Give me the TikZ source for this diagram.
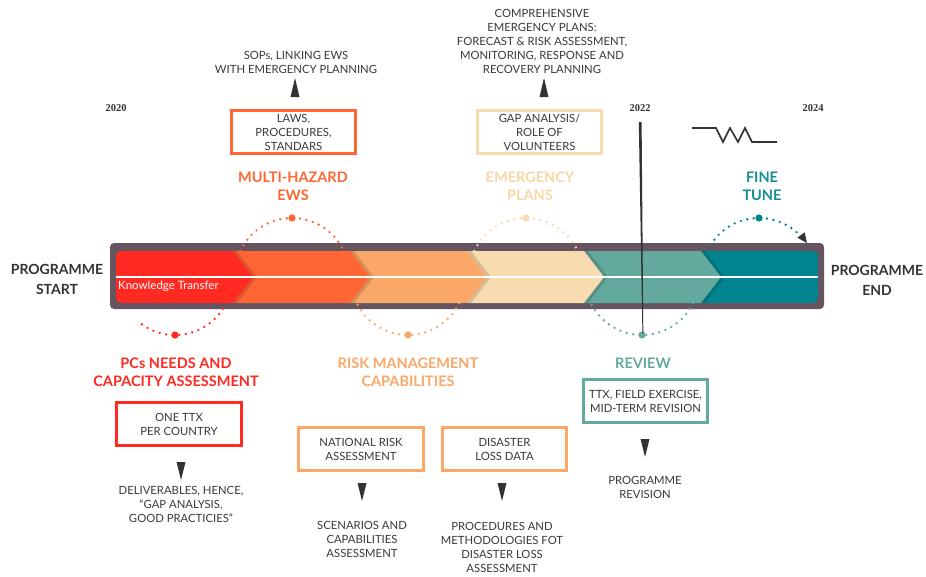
\documentclass[tikz,border=0pt]{standalone}
\usepackage{fontspec}
\setmainfont{Lato}
\newfontfamily\yearfont{Liberation Serif}
\usetikzlibrary{calc}
\definecolor{cRed}{HTML}{FF2A22}
\definecolor{cOrange}{HTML}{FF6633}
\definecolor{cLOrange}{HTML}{FBA768}
\definecolor{cCream}{HTML}{F8DCB0}
\definecolor{cCreamT}{HTML}{F7D7A6}
\definecolor{cTGreen}{HTML}{63A99D}
\definecolor{cTeal}{HTML}{00858F}
\definecolor{cTealT}{HTML}{168C95}
\definecolor{barc}{HTML}{665560}
\definecolor{tgray}{HTML}{3A3A3A}
\definecolor{pgray}{HTML}{333333}
\begin{document}
\begin{tikzpicture}[x=1pt,y=-1pt,
  head/.style={font=\bfseries\fontsize{14.5}{18}\selectfont, align=center, inner sep=0pt},
  txt/.style={font=\fontsize{11.3}{14}\selectfont, text=tgray, align=center, inner sep=0pt},
  prog/.style={font=\bfseries\fontsize{14}{20}\selectfont, text=pgray, align=center, inner sep=0pt},
  yr/.style={font=\yearfont\bfseries\fontsize{10.5}{12}\selectfont, text=pgray, inner sep=0pt},
  boxed/.style={txt, draw=#1, line width=2.6pt, minimum width=124.5pt, minimum height=43.5pt},
  dotarc/.style={line width=2.6pt, line cap=round, dash pattern=on 0pt off 6.6pt},
  tri/.style={fill=pgray},
  shadow/.style={fill=black, opacity=0.14}
]
\useasboundingbox[fill=white] (0,0) rectangle (926,576);

% ---------- bar ----------
\fill[barc, rounded corners=4pt] (110,243) rectangle (824,309);
\fill[cTeal, rounded corners=5pt] (116,251) rectangle (818,303);
% segment 5
\fill[shadow] (690,251) -- (705,251) -- (725,277) -- (705,303) -- (690,303) -- cycle;
\fill[cTGreen] (584,251) -- (701,251) -- (721,277) -- (701,303) -- (584,303) -- cycle;
% segment 4
\fill[shadow] (573,251) -- (588,251) -- (608,277) -- (588,303) -- (573,303) -- cycle;
\fill[cCream] (467,251) -- (584,251) -- (604,277) -- (584,303) -- (467,303) -- cycle;
% segment 3
\fill[shadow] (456,251) -- (471,251) -- (491,277) -- (471,303) -- (456,303) -- cycle;
\fill[cLOrange] (350,251) -- (467,251) -- (487,277) -- (467,303) -- (350,303) -- cycle;
% segment 2
\fill[shadow] (339,251) -- (354,251) -- (374,277) -- (354,303) -- (339,303) -- cycle;
\fill[cOrange] (233,251) -- (350,251) -- (370,277) -- (350,303) -- (233,303) -- cycle;
% segment 1
\fill[shadow] (222,251) -- (237,251) -- (257,277) -- (237,303) -- (222,303) -- cycle;
\fill[cRed, rounded corners=5pt] (116,251) rectangle (228,303);
\fill[cRed] (210,251) -- (233,251) -- (253,277) -- (233,303) -- (210,303) -- cycle;
% white line
\draw[white, line width=2.6pt] (116,277) -- (818,277);
\node[anchor=west, text=white, font=\fontsize{11.5}{13}\selectfont, inner sep=0pt] (kt) at (118,286) {Knowledge Transfer};

% ---------- dotted arcs ----------
\draw[dotarc, cRed] plot[domain=26:131, samples=60] ({175+57*cos(\x)},{278+57*sin(\x)});
\fill[cRed] (175,335) circle[radius=3.6pt];
\draw[dotarc, cOrange] plot[domain=205:335, samples=60] ({292+57*cos(\x)},{275+57*sin(\x)});
\fill[cOrange] (292,218) circle[radius=3.6pt];
\draw[dotarc, cLOrange] plot[domain=26:154, samples=60] ({408+57*cos(\x)},{278+57*sin(\x)});
\fill[cLOrange] (408,335) circle[radius=3.6pt];
\draw[dotarc, cCream] plot[domain=205:335, samples=60] ({526+57*cos(\x)},{275+57*sin(\x)});
\fill[cCream] (526,218) circle[radius=3.6pt];
\draw[dotarc, cTGreen] plot[domain=26:154, samples=60] ({642+57*cos(\x)},{278+57*sin(\x)});
\fill[cTGreen] (642,335) circle[radius=3.6pt];
\draw[dotarc, cTeal] plot[domain=205:318, samples=60] ({759+57*cos(\x)},{275+57*sin(\x)});
\fill[cTeal] (759,218) circle[radius=3.6pt];
\fill[pgray] (807,243) -- (797.4,237.7) -- (804.6,232.3) -- cycle;

% ---------- 2022 line & zigzag ----------
\fill[pgray] (638.8,122) -- (641.6,122) -- (643.3,333) -- (642.4,333) -- cycle;
\draw[pgray, line width=1.6pt, line join=miter] (692,128) -- (716,128) -- (723,142) -- (730,128) -- (738,142) -- (745,128) -- (752,142) -- (777,142);

% ---------- years ----------
\node[yr] (y2020) at (116,108) {2020};
\node[yr] (y2022) at (640,108) {2022};
\node[yr] (y2024) at (813,108) {2024};

% ---------- programme start/end ----------
\node[prog] (pstart) at (57,279) {PROGRAMME\\START};
\node[prog] (pend) at (877,280) {PROGRAMME\\END};

% ---------- headings ----------
\node[head, text=cOrange] (mh) at (293,186) {MULTI-HAZARD\\EWS};
\node[head, text=cCreamT] (ep) at (530,186) {EMERGENCY\\PLANS};
\node[head, text=cTealT] (ft) at (762,186) {FINE\\TUNE};
\node[head, text=cRed] (pcs) at (176,372) {PCs NEEDS AND\\CAPACITY ASSESSMENT};
\node[head, text=cLOrange] (rmc) at (408,372) {RISK MANAGEMENT\\CAPABILITIES};
\node[head, text=cTGreen] (rev) at (643,363) {REVIEW};

% ---------- boxes ----------
\node[boxed=cOrange] (laws) at (293.5,132) {LAWS,\\PROCEDURES,\\STANDARS};
\node[boxed=cCream] (gap) at (539.5,132) {GAP ANALYSIS/\\ROLE OF\\VOLUNTEERS};
\node[boxed=cRed] (ttx1) at (179,424) {ONE TTX\\PER COUNTRY};
\node[boxed=cLOrange] (nra) at (361,449) {NATIONAL RISK\\ASSESSMENT};
\node[boxed=cLOrange] (dld) at (504.5,449) {DISASTER\\LOSS DATA};
\node[boxed=cTGreen] (ttx) at (645.5,401) {TTX, FIELD EXERCISE,\\MID-TERM REVISION};

% ---------- outcome texts ----------
\node[txt] (sops) at (296,62) {SOPs, LINKING EWS\\WITH EMERGENCY PLANNING};
\node[txt] (comp) at (542,41) {COMPREHENSIVE\\EMERGENCY PLANS:\\FORECAST \& RISK ASSESSMENT,\\MONITORING, RESPONSE AND\\RECOVERY PLANNING};
\node[txt] (deliv) at (181,504) {DELIVERABLES, HENCE,\\``GAP ANALYSIS,\\GOOD PRACTICIES''};
\node[txt] (scen) at (362,539) {SCENARIOS AND\\CAPABILITIES\\ASSESSMENT};
\node[txt] (proc) at (502,547) {PROCEDURES AND\\METHODOLOGIES FOT\\DISASTER LOSS\\ASSESSMENT};
\node[txt] (prev) at (645,487) {PROGRAMME\\REVISION};

% ---------- triangles ----------
\fill[tri] (295,78) -- (290.5,97) -- (299.5,97) -- cycle;
\fill[tri] (544,78) -- (539.5,97) -- (548.5,97) -- cycle;
\fill[tri] (176.5,462) -- (185.5,462) -- (181,480) -- cycle;
\fill[tri] (357.5,483) -- (366.5,483) -- (362,501) -- cycle;
\fill[tri] (497.5,483) -- (506.5,483) -- (502,501) -- cycle;
\fill[tri] (640.5,439) -- (649.5,439) -- (645,457) -- cycle;
\end{tikzpicture}
\end{document}
